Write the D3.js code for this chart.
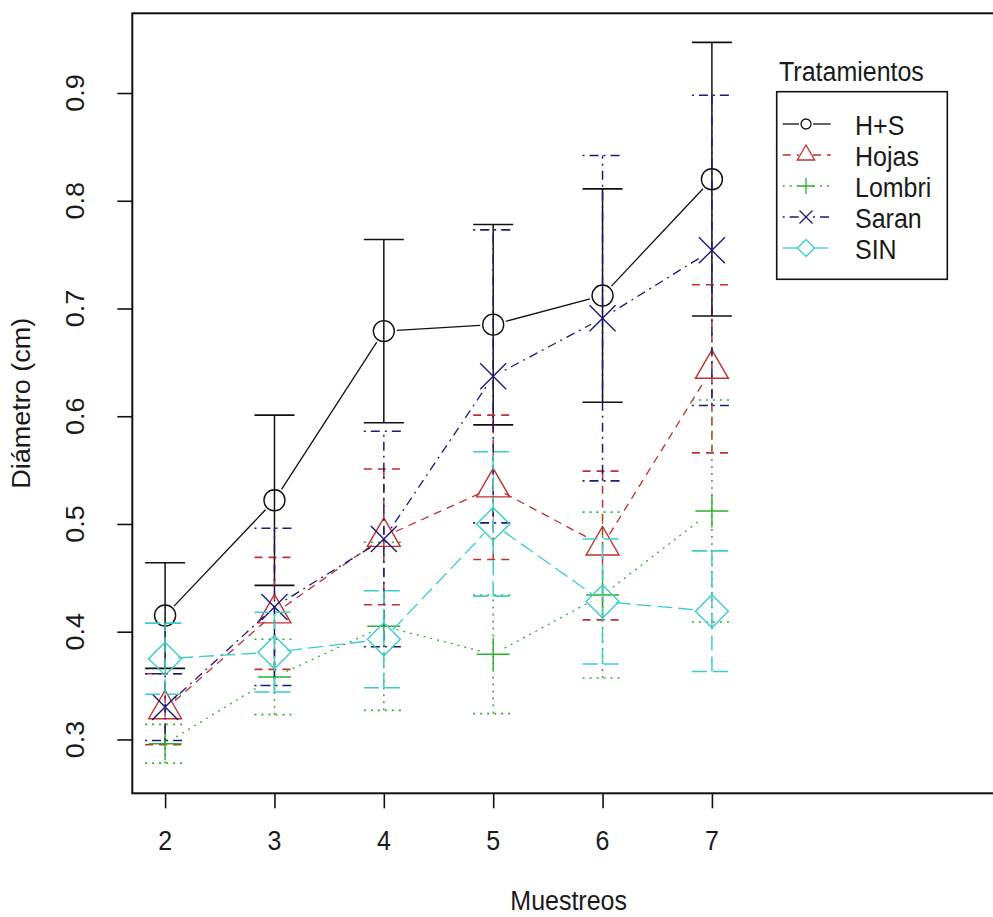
<!DOCTYPE html>
<html>
<head>
<meta charset="utf-8">
<script src="https://cdn.jsdelivr.net/npm/d3@7"></script>
<style>
  html, body { margin: 0; padding: 0; background: #fff; }
  svg text { font-family: "Liberation Sans", Arial, sans-serif; fill: #1a1a1a; }
</style>
</head>
<body>
<svg id="chart" width="993" height="917"></svg>
<script>
// Sampling rounds on the x axis
const muestreos = [2, 3, 4, 5, 6, 7];
const yTicks = [0.3, 0.4, 0.5, 0.6, 0.7, 0.8, 0.9];
const tratamientos = ["H+S", "Hojas", "Lombri", "Saran", "SIN"];

// Mean diameter (cm) and error half-width per treatment
const mediaHS     = [0.415, 0.522, 0.679, 0.685, 0.712, 0.820];
const errHS       = [0.049, 0.079, 0.085, 0.093, 0.099, 0.127];
const mediaHojas  = [0.328, 0.417, 0.488, 0.534, 0.480, 0.644];
const errHojas    = [0.033, 0.052, 0.063, 0.067, 0.069, 0.078];
const mediaLombri = [0.296, 0.358, 0.405, 0.379, 0.434, 0.512];
const errLombri   = [0.018, 0.035, 0.078, 0.055, 0.077, 0.103];
const mediaSaran  = [0.330, 0.423, 0.486, 0.637, 0.691, 0.754];
const errSaran    = [0.031, 0.073, 0.100, 0.136, 0.151, 0.144];
const mediaSIN    = [0.375, 0.381, 0.393, 0.500, 0.428, 0.419];
const errSIN      = [0.033, 0.037, 0.045, 0.067, 0.058, 0.056];

const medias = [mediaHS, mediaHojas, mediaLombri, mediaSaran, mediaSIN];
const errores = [errHS, errHojas, errLombri, errSaran, errSIN];

// Styling per treatment
const colores = ["#111111", "#bf3030", "#2fae2f", "#1c1c78", "#3ccccc"];
const dashes  = [null, "8,6", "2,5", "2,5,9,5", "15,6"];
const simbolos = ["circle", "triangle", "plus", "cross", "diamond"];

const svg = d3.select("#chart");
const pLeft = 132.3, pTop = 13.3, pBottom = 793.3, pRight = 1005;

const x = d3.scaleLinear().domain([1.7, 9.68]).range([pLeft, pRight]);
const y = d3.scaleLinear().domain([0.25, 0.974]).range([pBottom, pTop]);

// Symbol path generator, size s scales each shape
function symbolPath(kind, s) {
  switch (kind) {
    case "circle":
      return `M${-s},0A${s},${s} 0 1,0 ${s},0A${s},${s} 0 1,0 ${-s},0Z`;
    case "triangle": {
      const r = s, hx = r * Math.sqrt(3) / 2;
      return `M0,${-r}L${hx},${r / 2}L${-hx},${r / 2}Z`;
    }
    case "plus":
      return `M${-s},0L${s},0M0,${-s}L0,${s}`;
    case "cross":
      return `M${-s},${-s}L${s},${s}M${-s},${s}L${s},${-s}`;
    case "diamond":
      return `M0,${-s}L${s},0L0,${s}L${-s},0Z`;
  }
}
const mainSize = { circle: 10.5, triangle: 19, plus: 16.5, cross: 13, diamond: 16.5 };
const legSize  = { circle: 5, triangle: 10, plus: 8, cross: 6.5, diamond: 8.5 };

// Series: error bars, connecting lines with gaps, symbols
const gap = 13;
medias.forEach((serie, k) => {
  const g = svg.append("g");
  const col = colores[k];
  const dash = dashes[k];
  const err = errores[k];

  // error bars
  serie.forEach((m, i) => {
    const cx = x(muestreos[i]);
    const y1 = y(m - err[i]), y2 = y(m + err[i]);
    g.append("line").attr("x1", cx).attr("x2", cx).attr("y1", y1).attr("y2", y2)
      .attr("stroke", col).attr("stroke-width", 1.5).attr("stroke-dasharray", dash);
    [y1, y2].forEach(yy => {
      g.append("line").attr("x1", cx - 20).attr("x2", cx + 20).attr("y1", yy).attr("y2", yy)
        .attr("stroke", col).attr("stroke-width", 1.6).attr("stroke-dasharray", dash);
    });
  });

  // connecting segments shortened near each point
  for (let i = 0; i < serie.length - 1; i++) {
    const ax = x(muestreos[i]), ay = y(serie[i]);
    const bx = x(muestreos[i + 1]), by = y(serie[i + 1]);
    const dx = bx - ax, dy = by - ay, L = Math.hypot(dx, dy);
    const ux = dx / L, uy = dy / L;
    g.append("line")
      .attr("x1", ax + ux * gap).attr("y1", ay + uy * gap)
      .attr("x2", bx - ux * gap).attr("y2", by - uy * gap)
      .attr("stroke", col).attr("stroke-width", 1.3).attr("stroke-dasharray", dash);
  }

  // point symbols
  serie.forEach((m, i) => {
    g.append("path")
      .attr("d", symbolPath(simbolos[k], mainSize[simbolos[k]]))
      .attr("transform", `translate(${x(muestreos[i])},${y(m)})`)
      .attr("fill", "none").attr("stroke", col).attr("stroke-width", 1.4);
  });
});

// Axes
const xAxis = d3.axisBottom(x).tickValues(muestreos).tickSize(15).tickFormat(d3.format("d"));
const yAxis = d3.axisLeft(y).tickValues(yTicks).tickSize(15).tickFormat(d3.format(".1f"));

const gx = svg.append("g").attr("transform", `translate(0,${pBottom})`).call(xAxis);
gx.select(".domain").remove();
gx.selectAll(".tick line").attr("stroke", "#111").attr("stroke-width", 1.6);
gx.selectAll(".tick text").remove();

const gy = svg.append("g").attr("transform", `translate(${pLeft},0)`).call(yAxis);
gy.select(".domain").remove();
gy.selectAll(".tick line").attr("stroke", "#111").attr("stroke-width", 1.6);
gy.selectAll(".tick text").remove();

// Tick labels (slightly stretched vertically)
const fs = 25, sy = 1.08;
muestreos.forEach(v => {
  svg.append("text").attr("text-anchor", "middle").attr("font-size", fs)
    .attr("transform", `translate(${x(v)},850) scale(1,${sy})`).text(v);
});
yTicks.forEach(v => {
  svg.append("text").attr("text-anchor", "middle").attr("font-size", fs)
    .attr("transform", `translate(84,${y(v)}) scale(1,${sy}) rotate(-90)`).text(d3.format(".1f")(v));
});

// Axis titles
svg.append("text").attr("text-anchor", "middle").attr("font-size", fs)
  .attr("transform", `translate(${(pLeft + pRight) / 2},910) scale(1,${sy})`).text("Muestreos");
svg.append("text").attr("text-anchor", "middle").attr("font-size", fs)
  .attr("transform", `translate(30,${(pTop + pBottom) / 2}) scale(1,${sy}) rotate(-90)`).text("Diámetro (cm)");

// Plot frame
svg.append("rect").attr("x", pLeft).attr("y", pTop).attr("width", pRight - pLeft).attr("height", pBottom - pTop)
  .attr("fill", "none").attr("stroke", "#111").attr("stroke-width", 2);

// Legend
const leg = svg.append("g");
leg.append("text").attr("font-size", fs)
  .attr("transform", `translate(779,81) scale(1,${sy})`).text("Tratamientos");
leg.append("rect").attr("x", 776.7).attr("y", 91.7).attr("width", 170.6).attr("height", 187.6)
  .attr("fill", "#fff").attr("stroke", "#111").attr("stroke-width", 1.6);
tratamientos.forEach((t, k) => {
  const ly = 124 + k * 31;
  const col = colores[k], dash = dashes[k];
  [[782.7, 799], [813, 830.7]].forEach(([a, b]) => {
    leg.append("line").attr("x1", a).attr("x2", b).attr("y1", ly).attr("y2", ly)
      .attr("stroke", col).attr("stroke-width", 1.3).attr("stroke-dasharray", dash);
  });
  leg.append("path").attr("d", symbolPath(simbolos[k], legSize[simbolos[k]]))
    .attr("transform", `translate(806,${ly})`)
    .attr("fill", "none").attr("stroke", col).attr("stroke-width", 1.3);
  leg.append("text").attr("font-size", fs)
    .attr("transform", `translate(855,${ly + 10.5}) scale(1,${sy})`).text(t);
});
</script>
</body>
</html>
